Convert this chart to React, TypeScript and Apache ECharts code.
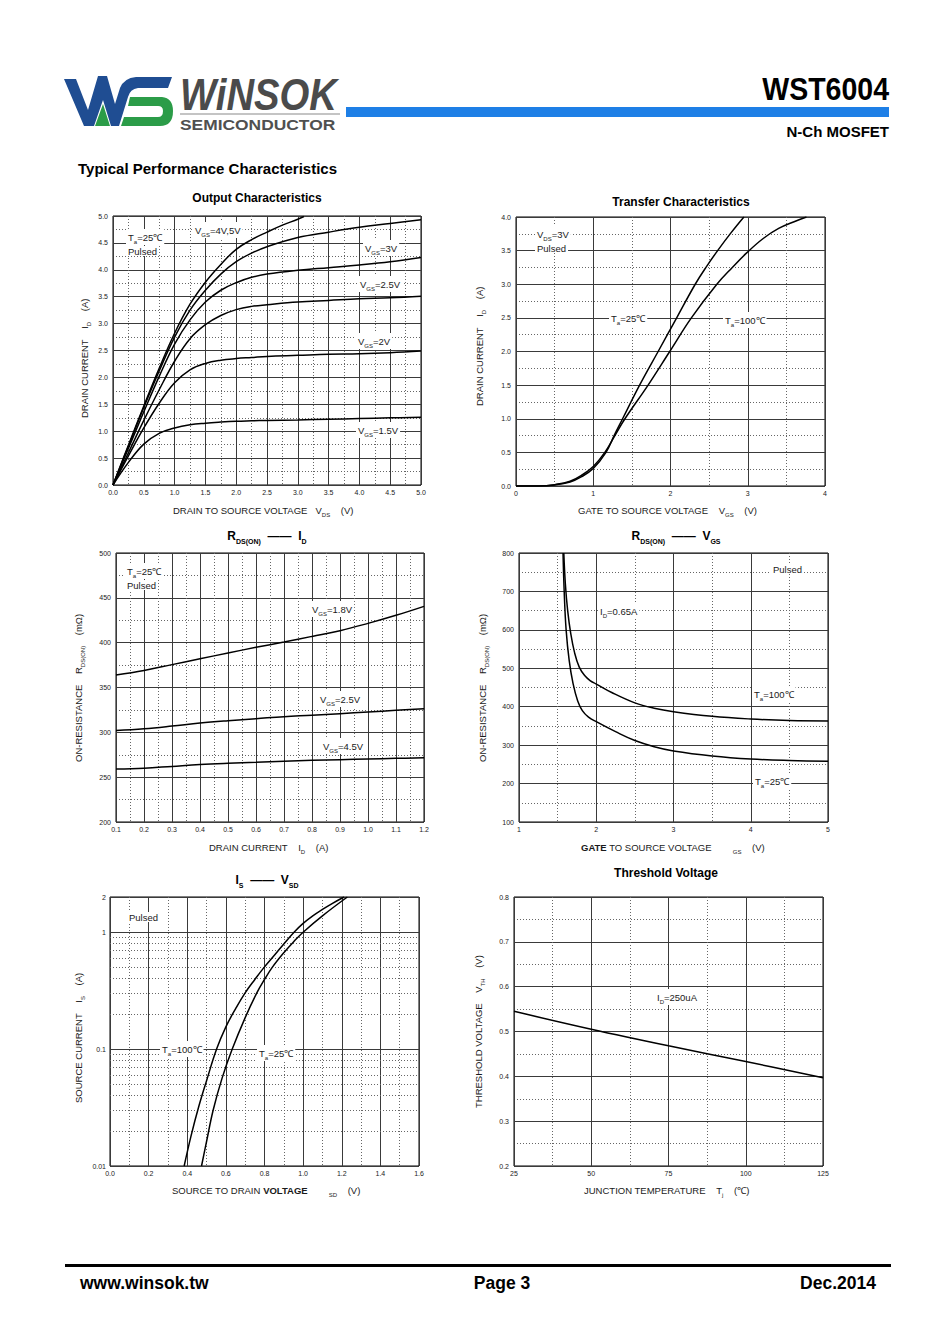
import React, { useEffect, useRef } from 'react';
import * as echarts from 'echarts';

const FONT = '"Liberation Sans", Arial, Helvetica, sans-serif';
const INK = '#1a1a1a';

type P = [number, number];
const pairs = (xs: number[], ys: number[]): P[] => xs.map((x, i) => [x, ys[i]]);

// ---------- Output characteristics: ID (A) vs VDS (V) ----------
const OUT_VDS = [0, 0.25, 0.5, 0.75, 1.0, 1.25, 1.5, 1.75, 2.0, 2.25, 2.5, 3.0, 3.5, 4.0, 4.5, 5.0];
const OUT_VGS5: P[] = [[0, 0], [0.25, 0.74], [0.5, 1.47], [0.75, 2.17], [1.0, 2.82], [1.25, 3.36], [1.5, 3.77], [1.75, 4.1], [2.0, 4.38], [2.25, 4.56], [2.5, 4.7], [2.75, 4.83], [3.0, 4.94], [3.1, 4.99]];
const OUT_VGS4 = [0, 0.72, 1.44, 2.12, 2.75, 3.25, 3.62, 3.92, 4.15, 4.31, 4.43, 4.6, 4.7, 4.79, 4.86, 4.93];
const OUT_VGS3 = [0, 0.68, 1.36, 2.02, 2.62, 3.07, 3.4, 3.62, 3.76, 3.86, 3.92, 3.99, 4.04, 4.09, 4.15, 4.23];
const OUT_VGS25 = [0, 0.6, 1.2, 1.77, 2.3, 2.72, 2.98, 3.15, 3.26, 3.32, 3.35, 3.4, 3.43, 3.46, 3.48, 3.51];
const OUT_VGS2 = [0, 0.54, 1.06, 1.52, 1.9, 2.14, 2.26, 2.32, 2.35, 2.37, 2.39, 2.41, 2.43, 2.44, 2.46, 2.49];
const OUT_VGS15 = [0, 0.42, 0.76, 0.96, 1.06, 1.12, 1.15, 1.17, 1.185, 1.193, 1.2, 1.21, 1.222, 1.235, 1.248, 1.26];

// ---------- Transfer characteristics: ID (A) vs VGS (V) ----------
const TR_TA25: P[] = [[0, 0], [0.3, 0.0], [0.5, 0.015], [0.7, 0.06], [0.85, 0.14], [1.0, 0.26], [1.165, 0.5], [1.27, 0.75], [1.38, 1.0], [1.6, 1.5], [1.84, 2.0], [2.08, 2.5], [2.32, 3.0], [2.47, 3.27], [2.61, 3.5], [2.78, 3.76], [2.95, 4.0]];
const TR_TA100: P[] = [[0, 0], [0.3, 0.0], [0.5, 0.02], [0.7, 0.07], [0.85, 0.16], [1.0, 0.29], [1.15, 0.5], [1.28, 0.75], [1.41, 1.0], [1.71, 1.5], [1.99, 2.0], [2.27, 2.5], [2.6, 3.0], [2.8, 3.25], [2.99, 3.47], [3.2, 3.68], [3.4, 3.83], [3.6, 3.93], [3.76, 4.0]];

// ---------- RDS(ON) (mΩ) vs ID (A) ----------
const RI_ID = [0.1, 0.2, 0.3, 0.4, 0.5, 0.6, 0.7, 0.8, 0.9, 1.0, 1.1, 1.2];
const RI_VGS18 = [364, 369, 375.5, 382, 388.5, 394.8, 400.7, 407, 413.4, 421.5, 430.5, 440.5];
const RI_VGS25 = [302, 304, 307, 310.4, 313, 315.2, 317.5, 319, 320.8, 322.7, 324.5, 326.4];
const RI_VGS45 = [259, 260, 262, 264, 265.4, 266.5, 267.7, 268.8, 269.5, 270.3, 271, 271.7];

// ---------- RDS(ON) (mΩ) vs VGS (V) ----------
const RV_TA100: P[] = [[1.58, 800], [1.6, 720], [1.63, 650], [1.67, 590], [1.72, 540], [1.78, 503], [1.85, 481], [1.92, 468], [2.0, 459], [2.2, 437], [2.5, 410], [2.75, 396], [3.0, 387], [3.5, 375], [4.0, 368], [4.5, 364], [5.0, 363]];
const RV_TA25: P[] = [[1.57, 800], [1.585, 700], [1.61, 600], [1.65, 520], [1.7, 460], [1.76, 415], [1.82, 390], [1.9, 373], [2.0, 361], [2.25, 335], [2.5, 312], [2.75, 296], [3.0, 285], [3.5, 272], [4.0, 264], [4.5, 260], [5.0, 258]];

// ---------- IS (A) vs VSD (V) ----------
const IS_TA100: P[] = [[0.384, 0.01], [0.42, 0.0182], [0.46, 0.0324], [0.5, 0.0537], [0.552, 0.1], [0.6, 0.155], [0.65, 0.221], [0.698, 0.3], [0.75, 0.394], [0.798, 0.5], [0.85, 0.631], [0.9, 0.794], [0.953, 1.0], [1.0, 1.19], [1.05, 1.38], [1.1, 1.567], [1.15, 1.758], [1.212, 2.0]];
const IS_TA25: P[] = [[0.474, 0.01], [0.5, 0.0162], [0.534, 0.03], [0.58, 0.0562], [0.633, 0.1], [0.7, 0.186], [0.759, 0.3], [0.8, 0.394], [0.84, 0.5], [0.9, 0.668], [0.95, 0.826], [1.0, 1.0], [1.1, 1.38], [1.229, 2.0]];
const IS_MINOR = [0.02, 0.03, 0.04, 0.05, 0.06, 0.07, 0.08, 0.09, 0.2, 0.3, 0.4, 0.5, 0.6, 0.7, 0.8, 0.9];

// ---------- Threshold voltage VTH (V) vs TJ (℃) ----------
const VTH_TJ = [25, 50, 75, 100, 125];
const VTH_V = [0.545, 0.505, 0.468, 0.433, 0.397];

// axis ranges: [min, max, interval, decimals]
const AX_OUT_X = [0, 5, 0.5, 1];
const AX_OUT_Y = [0, 5, 0.5, 1];
const AX_TR_X = [0, 4, 1, 0];
const AX_TR_Y = [0, 4, 0.5, 1];
const AX_RI_X = [0.1, 1.2, 0.1, 1];
const AX_RI_Y = [200, 500, 50, 0];
const AX_RV_X = [1, 5, 1, 0];
const AX_RV_Y = [100, 800, 100, 0];
const AX_IS_X = [0, 1.6, 0.2, 1];
const AX_IS_Y = [0.01, 2];
const AX_VT_X = [25, 125, 25, 0];
const AX_VT_Y = [0.2, 0.8, 0.1, 1];

const RICH: any = {
  n: { fontSize: 9.5, fontFamily: FONT, fill: INK },
  s: { fontSize: 6, fontFamily: FONT, fill: INK, padding: [10, 0, 0, 0] },
  b: { fontSize: 9.5, fontFamily: FONT, fill: INK, fontWeight: 'bold' },
  t: { fontSize: 12, fontFamily: FONT, fill: '#000', fontWeight: 'bold' },
  ts: { fontSize: 7, fontFamily: FONT, fill: '#000', fontWeight: 'bold', padding: [11, 0, 0, 0] },
  h1: { fontSize: 31, fontFamily: FONT, fill: '#000', fontWeight: 'bold' },
  h2: { fontSize: 15, fontFamily: FONT, fill: '#000', fontWeight: 'bold' },
  f: { fontSize: 17.5, fontFamily: FONT, fill: '#000', fontWeight: 'bold' },
  logo: { fontSize: 44, fontFamily: FONT, fill: '#4b4b4b', fontWeight: 'bold', fontStyle: 'italic' },
  semi: { fontSize: 15, fontFamily: FONT, fill: '#505050', fontWeight: 'bold' },
};

function rt(src: string, base = 'n', sub = 's', bold = 'b'): string {
  let out = '';
  let buf = '';
  const flush = () => {
    if (!buf) return;
    for (const p of buf.split(/( {2,})/)) if (p) out += `{${base}|${p}}`;
    buf = '';
  };
  let i = 0;
  while (i < src.length) {
    const c = src[i];
    if ((c === '_' || c === '*') && src[i + 1] === '{') {
      const end = src.indexOf('}', i);
      flush();
      out += `{${c === '_' ? sub : bold}|${src.slice(i + 2, end)}}`;
      i = end + 1;
    } else {
      buf += c;
      i++;
    }
  }
  flush();
  return out;
}

const BLUE_D = 'M64 79 L76 79 L88 110 L98 76 L107 76 L115 104 L120 88 Q124 78 136 77 L172 77 L168 88 L138 88 Q130 89 128 97 L119 126 L111 126 L103 100 L94 126 L84 126 Z';
const GREEN_D = 'M95 126 L103 104 L110 126 Z M130 97 L162 97 Q173 98 173 111 Q173 126 160 126 L121 126 L124 117 L158 117 Q163 117 163 111 Q163 106 158 106 L128 106 Z';

let registered = false;
function registerShapes() {
  if (registered) return;
  registered = true;
  echarts.graphic.registerShape('wsBlue', (echarts.graphic as any).extendPath(BLUE_D, {}));
  echarts.graphic.registerShape('wsGreen', (echarts.graphic as any).extendPath(GREEN_D, {}));
}

function buildGraphic(): any[] {
  const G: any[] = [];
  const T = (x: number, y: number, src: string, o: any = {}) => {
    G.push({
      type: 'text', x, y, z: 100, silent: true,
      rotation: o.rot || 0, scaleX: o.sx || 1,
      style: {
        text: rt(src, o.base || 'n', o.sub || 's', o.bold || 'b'),
        rich: RICH,
        align: o.align || 'left',
        verticalAlign: 'middle',
        backgroundColor: o.bg,
        padding: o.bg ? [0, 2, 0, 2] : 0,
      },
    });
  };
  const L = (x: number, y: number, src: string) => T(x, y - 1, src, { bg: '#fff' });
  const V = (x: number, y: number, src: string) => T(x, y, src, { rot: Math.PI / 2 });

  // header
  G.push({ type: 'wsBlue', x: 0, y: 0, z: 100, silent: true, style: { fill: '#1f4d92' } });
  G.push({ type: 'wsGreen', x: 0, y: 0, z: 100, silent: true, style: { fill: '#2b9c48' } });
  T(180, 95, 'WiNSOK', { base: 'logo', sx: 0.87 });
  G.push({ type: 'line', z: 100, silent: true, shape: { x1: 180, y1: 114, x2: 340, y2: 114 }, style: { stroke: '#8a8a8a', lineWidth: 1.2 } });
  T(180, 124, 'SEMICONDUCTOR', { base: 'semi', sx: 1.16 });
  G.push({ type: 'rect', z: 100, silent: true, shape: { x: 346, y: 107, width: 543, height: 10 }, style: { fill: '#1e7fe6' } });
  T(889, 89, 'WST6004', { base: 'h1', align: 'right', sx: 0.92 });
  T(889, 131, 'N-Ch MOSFET', { base: 'h2', align: 'right' });
  T(78, 168, 'Typical Performance Characteristics', { base: 'h2' });

  // chart titles
  T(257, 198, 'Output Characteristics', { base: 't', align: 'center' });
  T(681, 202, 'Transfer Characteristics', { base: 't', align: 'center' });
  T(267, 536, 'R_{DS(ON)}  ——  I_{D}', { base: 't', sub: 'ts', align: 'center' });
  T(676, 536, 'R_{DS(ON)}  ——  V_{GS}', { base: 't', sub: 'ts', align: 'center' });
  T(267, 880, 'I_{S}  ——  V_{SD}', { base: 't', sub: 'ts', align: 'center' });
  T(666, 873, 'Threshold Voltage', { base: 't', align: 'center' });

  // axis names
  T(173, 510, 'DRAIN TO SOURCE VOLTAGE   V_{DS}    (V)');
  V(84, 418, 'DRAIN CURRENT    I_{D}    (A)');
  T(578, 510, 'GATE TO SOURCE VOLTAGE    V_{GS}    (V)');
  V(479, 406, 'DRAIN CURRENT    I_{D}    (A)');
  T(209, 847, 'DRAIN CURRENT    I_{D}    (A)');
  V(78, 762, 'ON-RESISTANCE    R_{DS(ON)}    (mΩ)');
  T(581, 847, '*{GATE} TO SOURCE VOLTAGE        _{GS}    (V)');
  V(482, 762, 'ON-RESISTANCE    R_{DS(ON)}    (mΩ)');
  T(172, 1190, 'SOURCE TO DRAIN *{VOLTAGE}        _{SD}    (V)');
  V(78, 1103, 'SOURCE CURRENT    I_{S}    (A)');
  T(584, 1190, 'JUNCTION TEMPERATURE    T_{j}    (℃)');
  V(478, 1108, 'THRESHOLD VOLTAGE    V_{TH}    (V)');

  // in-chart labels
  L(126, 238, 'T_{a}=25℃');
  L(126, 252, 'Pulsed');
  L(193, 231, 'V_{GS}=4V,5V');
  L(363, 249, 'V_{GS}=3V');
  L(358, 285, 'V_{GS}=2.5V');
  L(356, 342, 'V_{GS}=2V');
  L(356, 431, 'V_{GS}=1.5V');

  L(535, 235, 'V_{DS}=3V');
  L(535, 249, 'Pulsed');
  L(609, 319, 'T_{a}=25℃');
  L(723, 321, 'T_{a}=100℃');

  L(125, 572, 'T_{a}=25℃');
  L(125, 586, 'Pulsed');
  L(310, 610, 'V_{GS}=1.8V');
  L(318, 700, 'V_{GS}=2.5V');
  L(321, 747, 'V_{GS}=4.5V');

  L(771, 570, 'Pulsed');
  L(598, 612, 'I_{D}=0.65A');
  L(752, 695, 'T_{a}=100℃');
  L(753, 782, 'T_{a}=25℃');

  L(127, 918, 'Pulsed');
  L(160, 1050, 'T_{a}=100℃');
  L(257, 1054, 'T_{a}=25℃');

  L(655, 998, 'I_{D}=250uA');

  // footer
  G.push({ type: 'rect', z: 100, silent: true, shape: { x: 65, y: 1264, width: 826, height: 3 }, style: { fill: '#000' } });
  T(80, 1283, 'www.winsok.tw', { base: 'f' });
  T(502, 1283, 'Page 3', { base: 'f', align: 'center' });
  T(876, 1283, 'Dec.2014', { base: 'f', align: 'right' });
  return G;
}

const GRIDS = [
  [113, 216, 308, 269],
  [516, 217, 309, 269],
  [116, 553, 308, 269],
  [519, 553, 309, 269],
  [110, 897, 309, 269],
  [514, 897, 309, 269],
];

const MAJOR = { show: true, lineStyle: { color: '#3a3a3a', width: 1 } };
const MINOR = { show: true, lineStyle: { color: '#666', width: 1, type: [1, 2] } };

function vAxis(gi: number, ax: number[], isX: boolean): any {
  const [min, max, interval, dec] = ax;
  return {
    type: 'value', gridIndex: gi, min, max, interval,
    axisLine: { show: false }, axisTick: { show: false },
    axisLabel: {
      fontSize: 7, color: '#222', fontFamily: FONT, margin: isX ? 4 : 5,
      showMinLabel: true, showMaxLabel: true, hideOverlap: false,
      formatter: (v: number) => v.toFixed(dec),
    },
    splitLine: MAJOR,
    minorTick: { show: false, splitNumber: 2 },
    minorSplitLine: MINOR,
  };
}

function line(name: string, data: P[], gi: number, extra: any = {}): any {
  return {
    type: 'line', name, data, xAxisIndex: gi, yAxisIndex: gi,
    symbol: 'none', showSymbol: false, smooth: 0.4,
    lineStyle: { color: '#000', width: 1.5 }, silent: true, clip: true, z: 5,
    ...extra,
  };
}

function buildOption(): any {
  const xAxis = [
    vAxis(0, AX_OUT_X, true), vAxis(1, AX_TR_X, true), vAxis(2, AX_RI_X, true),
    vAxis(3, AX_RV_X, true), vAxis(4, AX_IS_X, true), vAxis(5, AX_VT_X, true),
  ];
  const yAxis = [
    vAxis(0, AX_OUT_Y, false), vAxis(1, AX_TR_Y, false), vAxis(2, AX_RI_Y, false),
    vAxis(3, AX_RV_Y, false),
    {
      type: 'log', gridIndex: 4, logBase: 10, min: AX_IS_Y[0], max: AX_IS_Y[1],
      axisLine: { show: false }, axisTick: { show: false },
      axisLabel: {
        fontSize: 7, color: '#222', fontFamily: FONT, margin: 4, showMinLabel: true, showMaxLabel: true,
        formatter: (v: number) => String(+v.toPrecision(3)),
      },
      splitLine: MAJOR, minorSplitLine: { show: false },
    },
    vAxis(5, AX_VT_Y, false),
  ];
  const series = [
    line('VGS=5V', OUT_VGS5, 0),
    line('VGS=4V', pairs(OUT_VDS, OUT_VGS4), 0),
    line('VGS=3V', pairs(OUT_VDS, OUT_VGS3), 0),
    line('VGS=2.5V', pairs(OUT_VDS, OUT_VGS25), 0),
    line('VGS=2V', pairs(OUT_VDS, OUT_VGS2), 0),
    line('VGS=1.5V', pairs(OUT_VDS, OUT_VGS15), 0),
    line('Ta=25', TR_TA25, 1),
    line('Ta=100', TR_TA100, 1),
    line('VGS=1.8V', pairs(RI_ID, RI_VGS18), 2),
    line('VGS=2.5V', pairs(RI_ID, RI_VGS25), 2),
    line('VGS=4.5V', pairs(RI_ID, RI_VGS45), 2),
    line('Ta=100', RV_TA100, 3),
    line('Ta=25', RV_TA25, 3),
    line('Ta=100', IS_TA100, 4, {
      markLine: {
        silent: true, symbol: ['none', 'none'], label: { show: false }, z: 1,
        lineStyle: { color: '#666', width: 1, type: [1, 2] },
        data: IS_MINOR.map((v) => ({ yAxis: v })),
      },
    }),
    line('Ta=25', IS_TA25, 4),
    line('ID=250uA', pairs(VTH_TJ, VTH_V), 5),
  ];
  return {
    animation: false,
    backgroundColor: '#fff',
    grid: GRIDS.map((g) => ({
      left: g[0], top: g[1], width: g[2], height: g[3], show: true,
      borderColor: '#000', borderWidth: 1, backgroundColor: 'transparent', containLabel: false,
      outerBoundsMode: 'none',
    })),
    xAxis, yAxis, series,
    graphic: { elements: buildGraphic() },
  };
}

export default function App() {
  const ref = useRef<HTMLDivElement>(null);
  useEffect(() => {
    if (!ref.current) return;
    registerShapes();
    const chart = echarts.init(ref.current, null, { renderer: 'svg', width: 950, height: 1344 });
    chart.setOption(buildOption());
    return () => chart.dispose();
  }, []);
  return (
    <div
      ref={ref}
      style={{ position: 'absolute', left: 0, top: 0, width: 950, height: 1344, background: '#fff' }}
    />
  );
}
